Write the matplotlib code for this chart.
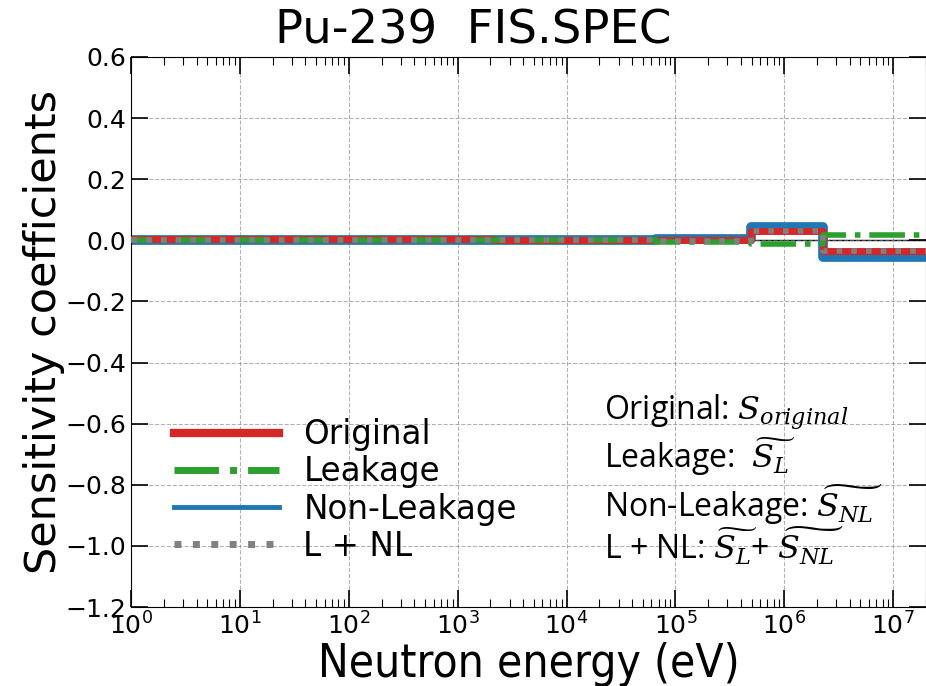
import matplotlib
matplotlib.use("Agg")
import matplotlib.pyplot as plt
from matplotlib.lines import Line2D
import numpy as np

plt.rcParams['mathtext.fontset'] = 'dejavuserif'

# Energy group boundaries (eV) and group values
edges = [1e-5, 2.1e3, 6.6e4, 4.95e5, 2.27e6, 2.0e7]
original = [0.004, 0.000, 0.000, 0.031, -0.036]
leakage = [0.000, 0.000, -0.004, -0.011, 0.019]
nonleak = [0.002, 0.000, 0.003, 0.042, -0.055]
lnl = [0.002, 0.000, -0.001, 0.031, -0.036]

labels = ["Original", "Leakage", "Non-Leakage", "L + NL"]
yticks = [0.6, 0.4, 0.2, 0.0, -0.2, -0.4, -0.6, -0.8, -1.0, -1.2]

def stepxy(e, v):
    return np.array(e), np.array(list(v) + [v[-1]])

fig = plt.figure(figsize=(9.26, 6.86), dpi=100)
ax = fig.add_axes([0.1415, 0.115, 0.8585, 0.802])

ax.axhline(0, color='k', lw=1, zorder=1)
x, y = stepxy(edges, nonleak)
ax.step(x, y, where='post', color='#1f77b4', lw=7, zorder=2)
x, y = stepxy(edges, original)
ax.step(x, y, where='post', color='#d62728', lw=5, zorder=3)
x, y = stepxy(edges, leakage)
ax.step(x, y, where='post', color='#2ca02c', lw=4, ls='-.', zorder=4)
x, y = stepxy(edges, lnl)
ax.step(x, y, where='post', color='gray', lw=4, ls=':', zorder=5)

ax.set_xscale('log')
ax.set_xlim(1, 2e7)
ax.set_ylim(-1.2, 0.6)
ax.set_yticks(yticks)
ax.grid(True, which='major', ls='--', color='gray', lw=0.8, alpha=0.6)
ax.tick_params(which='both', direction='in', top=True, right=True, labelsize=18)
ax.tick_params(which='major', length=12, width=1.2)
ax.tick_params(which='minor', length=6, width=0.8)
ax.set_xlabel("Neutron energy (eV)", fontsize=33, fontstretch='condensed', labelpad=2)
ax.set_ylabel("Sensitivity coefficients", fontsize=31, labelpad=0)
ax.set_title("Pu-239  FIS.SPEC", fontsize=33.5, pad=10, x=0.43)

handles = [
    Line2D([], [], color='#d62728', lw=6),
    Line2D([], [], color='#2ca02c', lw=5, ls='-.'),
    Line2D([], [], color='#1f77b4', lw=3.5),
    Line2D([], [], color='gray', lw=5, ls=':'),
]
ax.legend(handles, labels, loc='lower left', bbox_to_anchor=(0.03, 0.045),
          frameon=False, fontsize=23.5, handlelength=3.2, labelspacing=0.13,
          handletextpad=0.75, borderaxespad=0.2)

tfont = dict(fontsize=23, family='Open Sans', transform=fig.transFigure, va='baseline')
ax.text(0.652, 0.388, r"Original: $S_{original}$", **tfont)
ax.text(0.652, 0.318, r"Leakage:  $\widetilde{S_L}$", **tfont)
ax.text(0.652, 0.246, r"Non-Leakage: $\widetilde{S_{NL}}$", **tfont)
ax.text(0.652, 0.184, r"L + NL: $\widetilde{S_L}$+ $\widetilde{S_{NL}}$", **tfont)

fig.savefig("out.png", dpi=100)
